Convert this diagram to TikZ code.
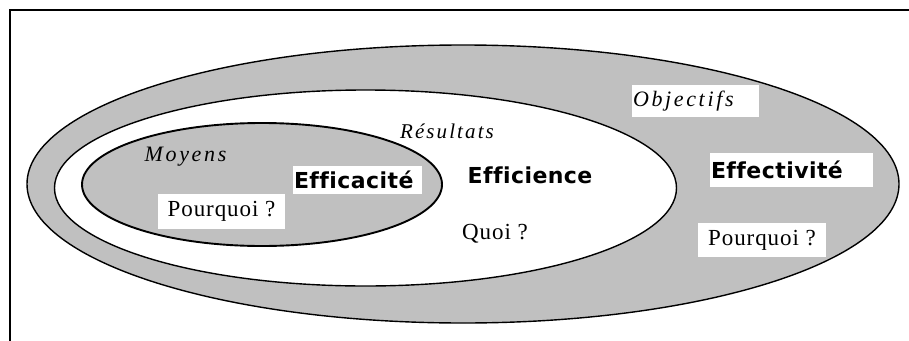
\documentclass[tikz,border=0pt]{standalone}
\usepackage{fontspec}
\setmainfont{Liberation Serif}
\newfontfamily\serifsp{Liberation Serif}[LetterSpace=4]
\newfontfamily\italsp{Liberation Serif}[LetterSpace=12]
\newfontfamily\italspb{Liberation Serif}[LetterSpace=10]
\newfontfamily\boldsans{DejaVu Sans}[LetterSpace=2, Ligatures=NoCommon]
\definecolor{zonegray}{RGB}{192,192,192}
\tikzset{
  zone/.style={draw=black, line width=1.4pt},
  qtext/.style={font=\serifsp\fontsize{23}{25}\selectfont, inner sep=0pt},
  itext/.style={font=\italsp\itshape\fontsize{22}{24}\selectfont, inner sep=0pt},
  btext/.style={font=\boldsans\bfseries\fontsize{22}{24}\selectfont, inner sep=0pt},
}
\begin{document}
\begin{tikzpicture}[x=1pt,y=-1pt]
\useasboundingbox[fill=white] (0,0) rectangle (909,340);
% frame
\draw[line width=2.6pt] (10,345) -- (10,10) -- (915,10);
% ellipses
\filldraw[zone, fill=zonegray] (463,184) ellipse [x radius=436pt, y radius=139pt];
\filldraw[zone, fill=white] (365.5,188) ellipse [x radius=311pt, y radius=98pt];
\filldraw[zone, line width=1.9pt, fill=zonegray] (262,184.5) ellipse [x radius=180pt, y radius=61.5pt];
% free texts
\node[itext, anchor=base] (moyens) at (185.5,161) {Moyens};
\node[itext, anchor=base, font=\italspb\itshape\fontsize{21}{23}\selectfont] (resultats) at (447,138) {Résultats};
\node[btext, anchor=base] (efficience) at (530,183) {Efficience};
\node[qtext, anchor=base] (quoi) at (495,239) {Quoi ?};
% boxed texts
\node[itext, fill=white, minimum height=32pt, text width=125pt, align=left, inner xsep=1pt] (objectifs) at (695.5,101) {Objectifs};
\node[btext, fill=white, minimum height=34pt, text width=161pt, align=left, inner xsep=1pt] (effectivite) at (791.5,170) {Effectivité};
\node[btext, fill=white, minimum height=28pt, text width=127pt, align=left, inner xsep=1pt] (efficacite) at (357.5,180) {Efficacité};
\node[qtext, fill=white, minimum height=35pt, minimum width=127pt] (pq1) at (221.5,211.5) {Pourquoi ?};
\node[qtext, fill=white, minimum height=34pt, minimum width=128pt] (pq2) at (762,240) {Pourquoi ?};
\end{tikzpicture}
\end{document}
